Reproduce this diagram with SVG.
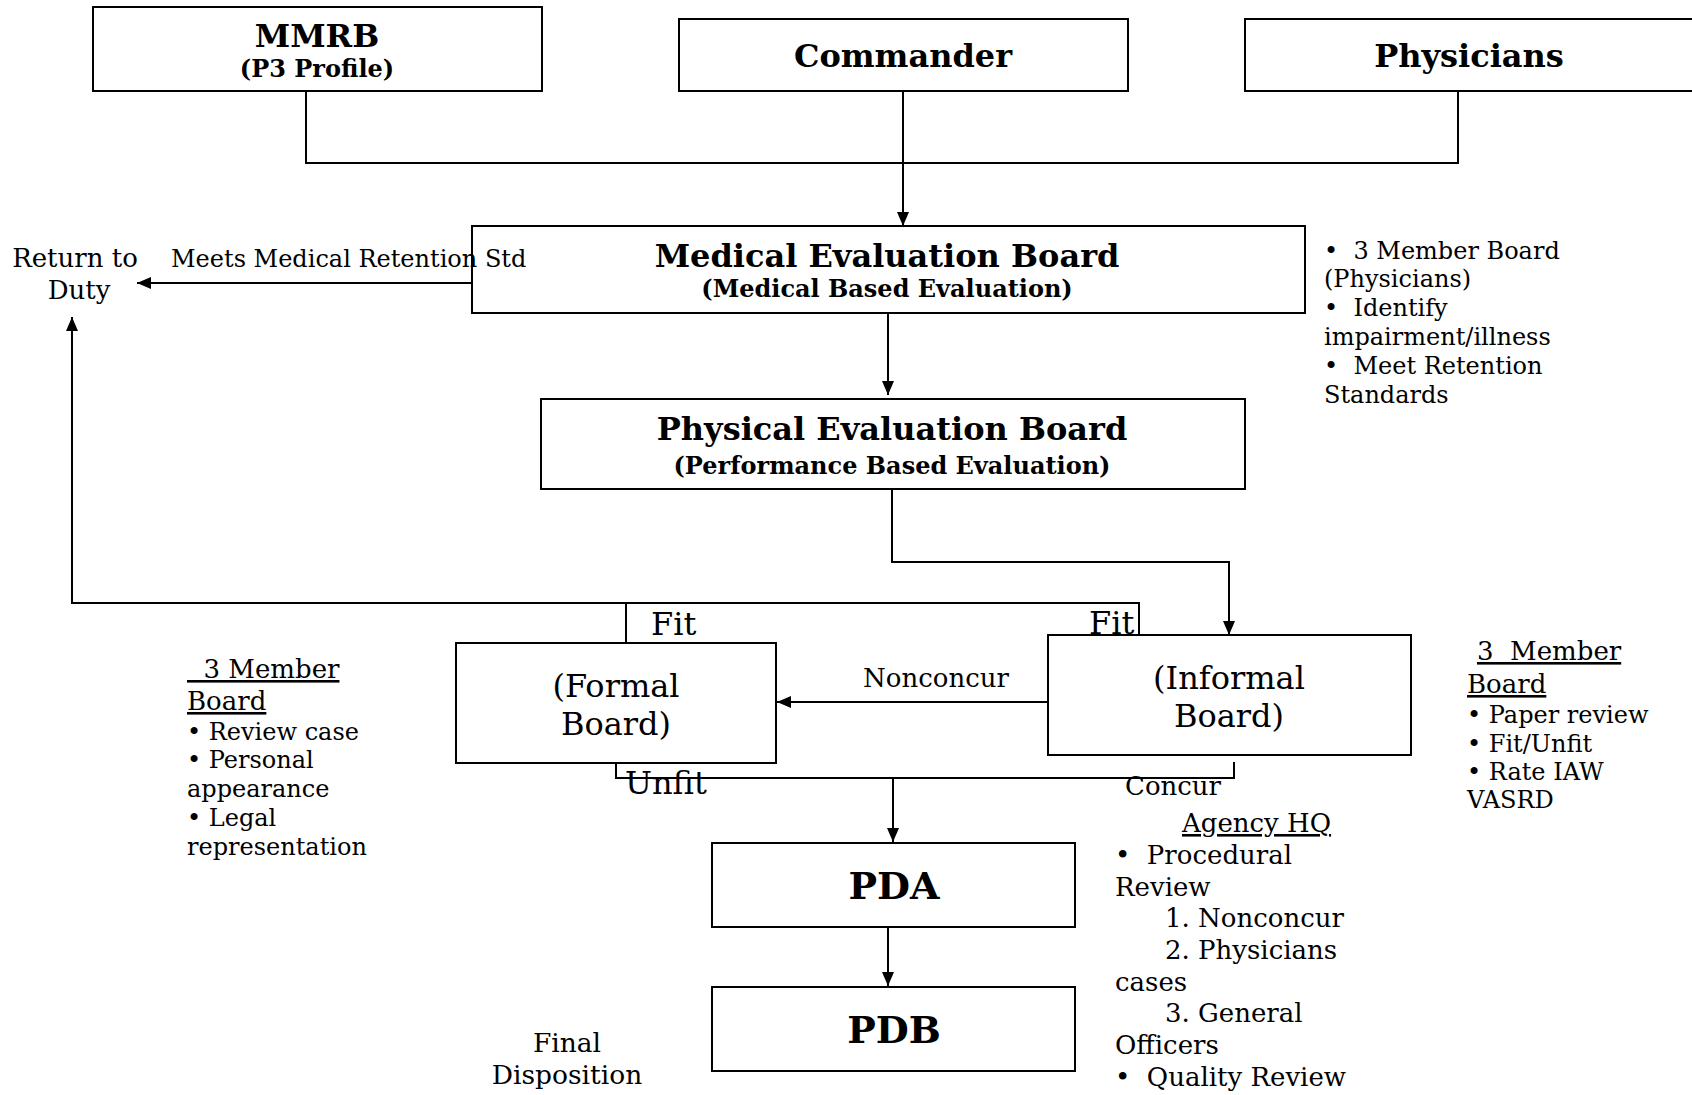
<svg xmlns="http://www.w3.org/2000/svg" width="1692" height="1095" viewBox="0 0 1692 1095">
<style>
text{font-family:"DejaVu Serif","Liberation Serif",serif;fill:#000;white-space:pre}
.b{font-weight:bold}
.box{fill:#fff;stroke:#000;stroke-width:2}
.ln{fill:none;stroke:#000;stroke-width:2}
.u{text-decoration:underline}
</style>
<defs>
<marker id="ah" markerUnits="userSpaceOnUse" markerWidth="14" markerHeight="14" viewBox="0 0 14 14" refX="14" refY="7" orient="auto">
<path d="M0,1 L14,7 L0,13 z" fill="#000"/>
</marker>
<clipPath id="cc"><rect x="1100" y="770" width="160" height="25"/></clipPath>
</defs>
<rect width="1692" height="1095" fill="#fff"/>
<g id="connectors">
<path class="ln" d="M306,91 V163 H1458 V91"/>
<path class="ln" d="M903,91 V226" marker-end="url(#ah)"/>
<path class="ln" d="M472,283 H137" marker-end="url(#ah)"/>
<path class="ln" d="M888,313 V395" marker-end="url(#ah)"/>
<path class="ln" d="M892,489 V562 H1229 V635" marker-end="url(#ah)"/>
<path class="ln" d="M1139,635 V603 H72 V317" marker-end="url(#ah)"/>
<path class="ln" d="M626,603 V643"/>
<path class="ln" d="M1048,702 H777" marker-end="url(#ah)"/>
<path class="ln" d="M616,763 V778 H1234 V762"/>
<path class="ln" d="M893,778 V842" marker-end="url(#ah)"/>
<path class="ln" d="M888,927 V986" marker-end="url(#ah)"/>
</g>
<g id="mmrb"><rect class="box" x="93" y="7" width="449" height="84"/>
<text class="b" x="317" y="47" font-size="32" text-anchor="middle">MMRB</text>
<text class="b" x="317" y="77" font-size="24" text-anchor="middle">(P3 Profile)</text></g>
<g id="commander"><rect class="box" x="679" y="19" width="449" height="72"/>
<text class="b" x="903" y="67" font-size="32" text-anchor="middle">Commander</text></g>
<g id="physicians"><rect class="box" x="1245" y="19" width="449" height="72"/>
<text class="b" x="1469" y="67" font-size="32" text-anchor="middle">Physicians</text></g>
<g id="meb"><rect class="box" x="472" y="226" width="833" height="87"/>
<text class="b" x="887" y="267" font-size="32" text-anchor="middle">Medical Evaluation Board</text>
<text class="b" x="887" y="297" font-size="24" text-anchor="middle">(Medical Based Evaluation)</text></g>
<g id="peb"><rect class="box" x="541" y="399" width="704" height="90"/>
<text class="b" x="892" y="440" font-size="32" text-anchor="middle">Physical Evaluation Board</text>
<text class="b" x="892" y="474" font-size="24" text-anchor="middle">(Performance Based Evaluation)</text></g>
<g id="formal"><rect class="box" x="456" y="643" width="320" height="120"/>
<text x="616" y="697" font-size="32" text-anchor="middle">(Formal</text>
<text x="616" y="735" font-size="32" text-anchor="middle">Board)</text></g>
<g id="informal"><rect class="box" x="1048" y="635" width="363" height="120"/>
<text x="1229" y="689" font-size="32" text-anchor="middle">(Informal</text>
<text x="1229" y="727" font-size="32" text-anchor="middle">Board)</text></g>
<g id="pda"><rect class="box" x="712" y="843" width="363" height="84"/>
<text class="b" x="894" y="899" font-size="38" text-anchor="middle">PDA</text></g>
<g id="pdb"><rect class="box" x="712" y="987" width="363" height="84"/>
<text class="b" x="894" y="1043" font-size="38" text-anchor="middle">PDB</text></g>
<g id="rtd">
<text x="75" y="267" font-size="26" text-anchor="middle">Return to</text>
<text x="79" y="299" font-size="26" text-anchor="middle">Duty</text></g>
<g id="labels">
<text x="171" y="267" font-size="24">Meets Medical Retention Std</text>
<text x="651" y="635" font-size="32">Fit</text>
<text x="1089" y="634" font-size="32">Fit</text>
<text x="936" y="687" font-size="26" text-anchor="middle">Nonconcur</text>
<text x="625" y="794" font-size="32">Unfit</text>
<text x="1125" y="795" font-size="26" clip-path="url(#cc)">Concur</text>
<text x="567" y="1052" font-size="26.5" text-anchor="middle">Final</text>
<text x="567" y="1084" font-size="26.5" text-anchor="middle">Disposition</text>
</g>
<g id="meb-notes" font-size="24">
<text x="1324" y="259">•  3 Member Board</text>
<text x="1324" y="287">(Physicians)</text>
<text x="1324" y="316">•  Identify</text>
<text x="1324" y="345">impairment/illness</text>
<text x="1324" y="374">•  Meet Retention</text>
<text x="1324" y="403">Standards</text>
</g>
<g id="formal-notes">
<text x="187" y="678" font-size="26" class="u">  3 Member</text>
<text x="187" y="710" font-size="26" class="u">Board</text>
<text x="187" y="740" font-size="24">• Review case</text>
<text x="187" y="768" font-size="24">• Personal</text>
<text x="187" y="797" font-size="24">appearance</text>
<text x="187" y="826" font-size="24">• Legal</text>
<text x="187" y="855" font-size="24">representation</text>
</g>
<g id="informal-notes">
<text x="1477" y="660" font-size="26" class="u">3  Member</text>
<text x="1467" y="693" font-size="26" class="u">Board</text>
<text x="1467" y="723" font-size="24">• Paper review</text>
<text x="1467" y="752" font-size="24">• Fit/Unfit</text>
<text x="1467" y="780" font-size="24">• Rate IAW</text>
<text x="1467" y="808" font-size="24">VASRD</text>
</g>
<g id="agency-notes" font-size="26">
<text x="1182" y="832" class="u">Agency HQ</text>
<text x="1115" y="864">•  Procedural</text>
<text x="1115" y="896">Review</text>
<text x="1165" y="927">1. Nonconcur</text>
<text x="1165" y="959">2. Physicians</text>
<text x="1115" y="991">cases</text>
<text x="1165" y="1022">3. General</text>
<text x="1115" y="1054">Officers</text>
<text x="1115" y="1086">•  Quality Review</text>
</g>
</svg>
